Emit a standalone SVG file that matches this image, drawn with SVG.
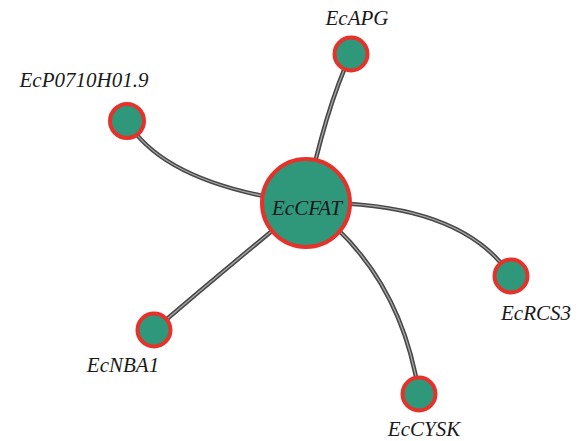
<svg xmlns="http://www.w3.org/2000/svg" width="583" height="441" viewBox="0 0 583 441">
<style>
.e1{fill:none;stroke:#474747;stroke-width:4.4;stroke-linecap:round}
.e2{fill:none;stroke:#a8a8a8;stroke-width:1.3;stroke-linecap:round}
.n{fill:#2f977a;stroke:#e5322b;stroke-width:4}
.t{font-family:"Liberation Serif","Times New Roman",serif;font-style:italic;font-size:21px;fill:#1a1a1a}
</style>
<rect width="583" height="441" fill="#ffffff"/>
<defs>
<path id="pA" d="M306 203 Q325 110 351 54"/>
<path id="pP" d="M306 203 Q165 185 127 121"/>
<path id="pR" d="M306 203 Q460 200 511 276"/>
<path id="pC" d="M306 203 Q400 270 419 394"/>
<path id="pN" d="M306 203 Q230 265 154 330"/>
</defs>
<g id="connectors">
<use href="#pA" class="e1"/><use href="#pA" class="e2"/>
<use href="#pP" class="e1"/><use href="#pP" class="e2"/>
<use href="#pR" class="e1"/><use href="#pR" class="e2"/>
<use href="#pC" class="e1"/><use href="#pC" class="e2"/>
<use href="#pN" class="e1"/><use href="#pN" class="e2"/>
</g>
<g id="EcCFAT"><circle class="n" cx="306" cy="203" r="44"/><text class="t" x="307" y="215" text-anchor="middle">EcCFAT</text></g>
<g id="EcAPG"><circle class="n" cx="351" cy="54" r="16.5"/><text class="t" x="357" y="25" text-anchor="middle">EcAPG</text></g>
<g id="EcP0710H01.9"><circle class="n" cx="127" cy="121" r="17"/><text class="t" x="84" y="87" text-anchor="middle">EcP0710H01.9</text></g>
<g id="EcRCS3"><circle class="n" cx="511" cy="276" r="16.5"/><text class="t" x="536" y="320" text-anchor="middle">EcRCS3</text></g>
<g id="EcCYSK"><circle class="n" cx="419" cy="394" r="16.5"/><text class="t" x="424" y="436" text-anchor="middle">EcCYSK</text></g>
<g id="EcNBA1"><circle class="n" cx="154" cy="330" r="16.5"/><text class="t" x="123" y="372" text-anchor="middle">EcNBA1</text></g>
</svg>
